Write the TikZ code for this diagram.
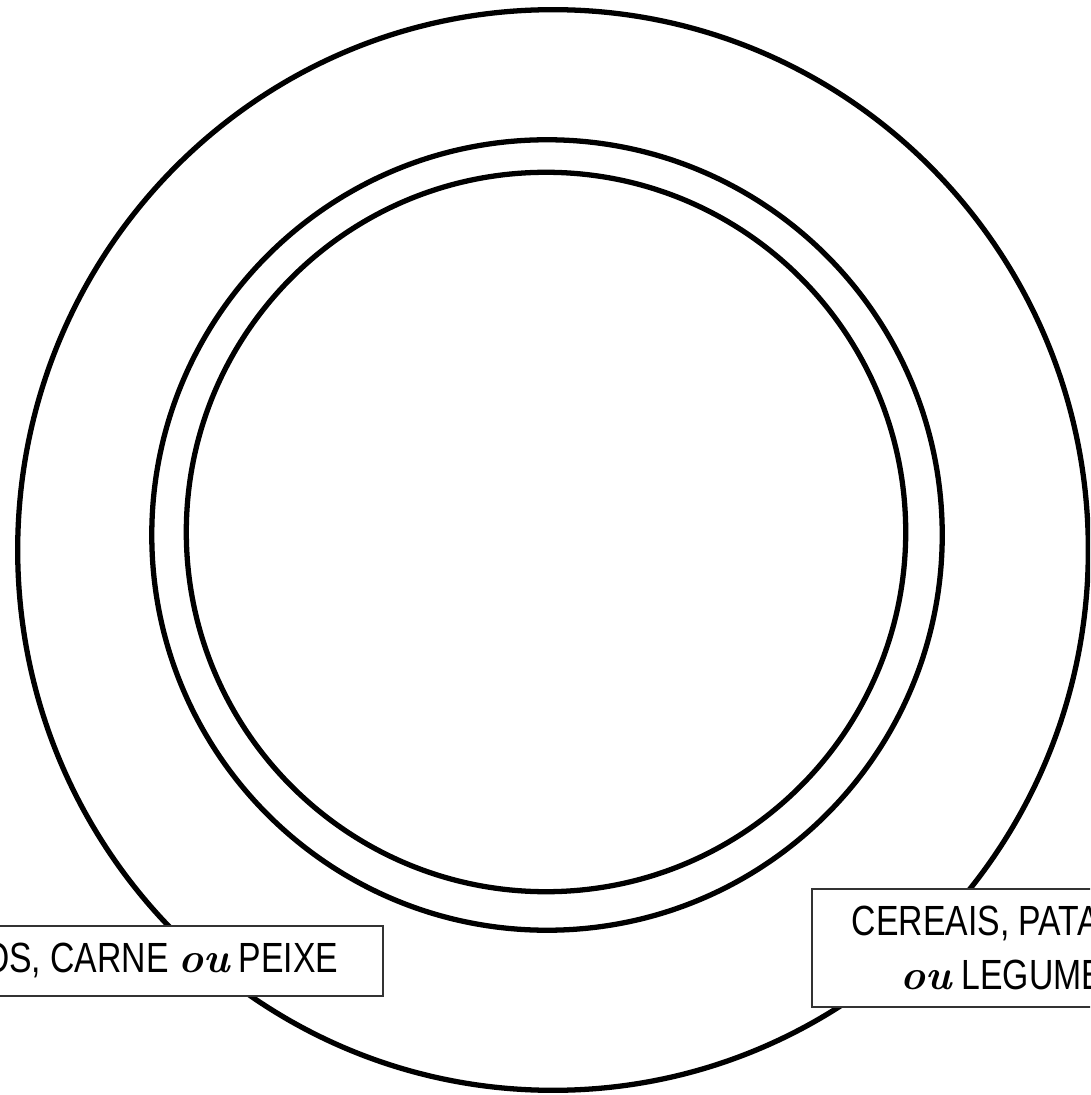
\documentclass[tikz,border=0pt]{standalone}
\usepackage{fontspec}
\usepackage{tikz}
\newfontfamily\labelfont{Liberation Sans}[FakeStretch=0.8]
\newcommand{\ou}{{\normalfont\bfseries\itshape ou}}

\begin{document}
\begin{tikzpicture}[
    x=0.01cm, y=-0.01cm,
    ring/.style={draw, line width=1.5pt},
    foodbox/.style={rectangle, draw=black!80, line width=0.5pt, fill=white,
                    inner xsep=0.45cm, font=\labelfont\fontsize{12}{15.6}\selectfont}
  ]
    \useasboundingbox (0,0) rectangle (1090,1095);
    \clip (0,0) rectangle (1090,1095);
    % plate rim and well
    \draw[ring] (553,550) ellipse [x radius=5.35cm, y radius=5.40cm];
    \draw[ring] (547,535) circle [radius=3.95cm];
    \draw[ring] (546,532) circle [radius=3.595cm];
    % food groups
    \node[foodbox, anchor=north east, minimum height=0.7cm] (protein) at (384,925)
      {OS, CARNE \ou{} PEIXE};
    \node[foodbox, anchor=north west, minimum height=1.18cm, inner xsep=0.4cm,
          align=left] (starch) at (811,888)
      {CEREAIS, PATA\\\hspace*{0.49cm}\ou{} LEGUME};
  \end{tikzpicture}
\end{document}
